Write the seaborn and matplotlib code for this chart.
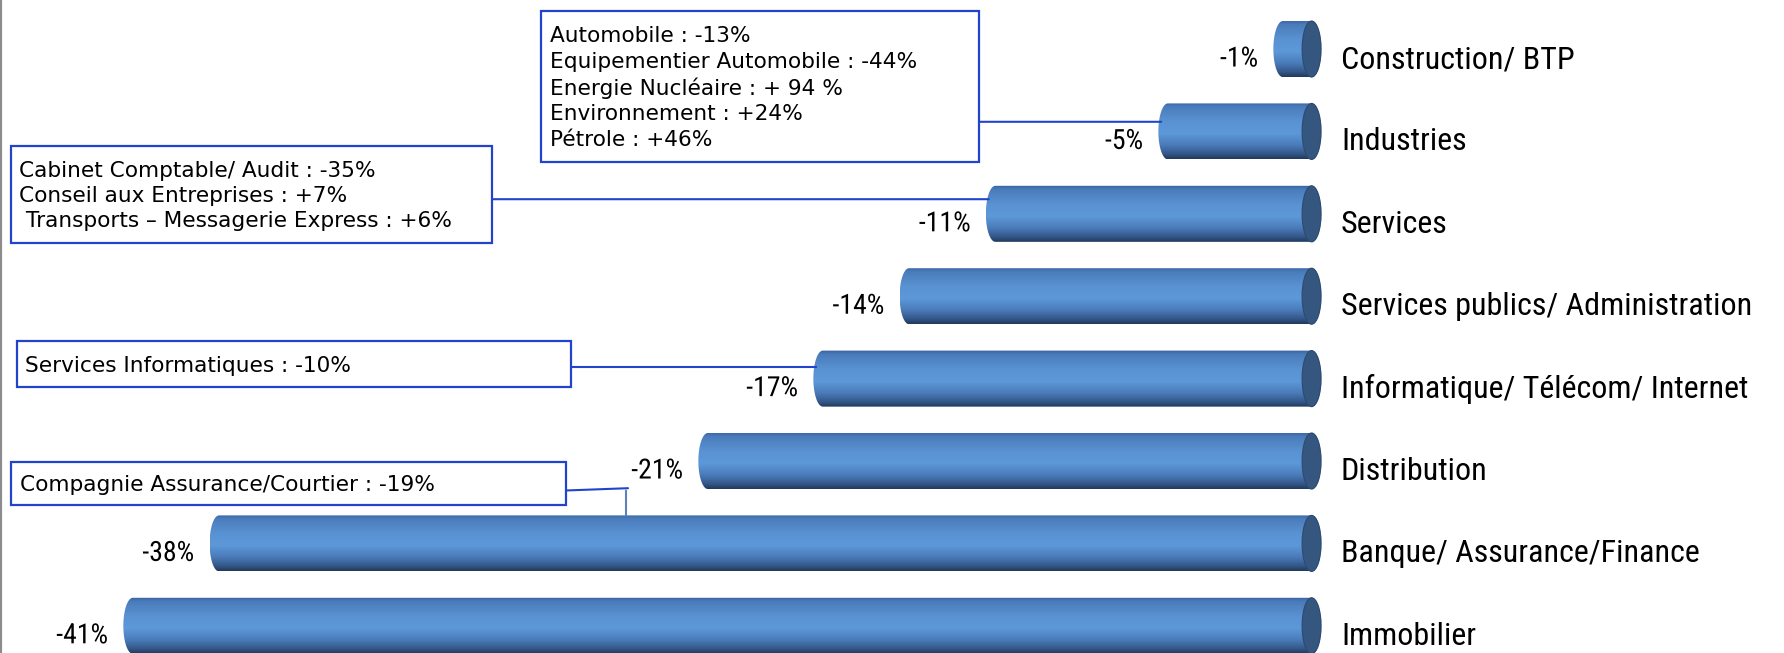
import numpy as np
import matplotlib
matplotlib.use('Agg')
import matplotlib.pyplot as plt
import matplotlib.patheffects as pe
import seaborn as sns
from matplotlib import font_manager
from matplotlib.colors import LinearSegmentedColormap
from matplotlib.patches import Ellipse, Polygon, Rectangle


# data
categories = ['Construction/ BTP', 'Industries', 'Services',
              'Services publics/ Administration', 'Informatique/ Télécom/ Internet',
              'Distribution', 'Banque/ Assurance/Finance', 'Immobilier']
values = [-1, -5, -11, -14, -17, -21, -38, -41]

notes_industries = ['Automobile : -13%', 'Equipementier Automobile : -44%',
                    'Energie Nucléaire : + 94 %', 'Environnement : +24%', 'Pétrole : +46%']
notes_services = ['Cabinet Comptable/ Audit : -35%', 'Conseil aux Entreprises : +7%',
                  ' Transports – Messagerie Express : +6%']
notes_informatique = ['Services Informatiques : -10%']
notes_banque = ['Compagnie Assurance/Courtier : -19%']

W, H = 1784, 653
BLUE = '#2244cc'
cyl = LinearSegmentedColormap.from_list('cyl', [
    (0.0, '#3a62a0'), (0.08, '#4a7cbb'), (0.35, '#5a93d3'), (0.55, '#5d98d8'),
    (0.75, '#4b7cba'), (0.9, '#355a8c'), (1.0, '#22385c')])


# pick a narrow font for the category names if one is installed
def narrow_font():
    fonts = font_manager.fontManager.ttflist
    names = {f.name for f in fonts}
    for name in ['Roboto Condensed', 'Liberation Sans Narrow', 'Arial Narrow']:
        if name in names:
            return dict(family=[name, 'DejaVu Sans']), 1.0
    if any(f.name == 'DejaVu Sans' and f.stretch == 'condensed' for f in fonts):
        return dict(family=['DejaVu Sans'], fontstretch='condensed'), 0.88
    return dict(family=['DejaVu Sans']), 0.8


def fx(x):
    return x / W


def fy(y):
    return 1 - y / H


# draw a box with notes (pixel positions from the top left corner)
def note_box(fig, lines, left, top, right, bottom, text_x):
    fig.add_artist(Rectangle((fx(left), fy(bottom)), (right - left) / W, (bottom - top) / H,
                             transform=fig.transFigure, facecolor='white',
                             edgecolor=BLUE, lw=1.6, zorder=5))
    fig.text(fx(text_x), fy((top + bottom) / 2 + 1.5), '\n'.join(lines), ha='left', va='center',
             fontsize=15.6, linespacing=1.33, color='black', zorder=6)


sns.set_theme(style='white')
plt.rcParams['font.family'] = ['DejaVu Sans']
label_font, k = narrow_font()

fig = plt.figure(figsize=(W / 100, H / 100), dpi=100)
ax = fig.add_axes([0, 0, 1330 / W, 1])
sns.barplot(x=values, y=categories, orient='h', color='#5a93d3', width=0.68, ax=ax)

cap = 0.33  # half width of the cylinder ends, in data units
grad = np.linspace(0, 1, 256).reshape(-1, 1)
ends = []
for patch, v in zip(list(ax.patches), values):
    bb = patch.get_bbox()
    x0, x1, y0, y1 = bb.xmin, bb.xmax, bb.ymin, bb.ymax
    yc, hh = (y0 + y1) / 2, (y1 - y0) / 2
    t = np.linspace(np.pi / 2, 3 * np.pi / 2, 40)
    left = np.column_stack([x0 + cap * np.cos(t), yc + hh * np.sin(t)])
    t2 = np.linspace(-np.pi / 2, np.pi / 2, 40)
    right = np.column_stack([x1 + cap * np.cos(t2), yc + hh * np.sin(t2)])
    outline = Polygon(np.vstack([left, right]), closed=True, facecolor='none', edgecolor='none')
    ax.add_patch(outline)
    im = ax.imshow(grad, cmap=cyl, aspect='auto', extent=(x0 - cap, x1 + cap, y1, y0),
                   origin='upper', zorder=2, interpolation='bilinear')
    im.set_clip_path(outline)
    ax.add_patch(Ellipse((x1, yc), 2 * cap, 2 * hh, facecolor='#35577f',
                         edgecolor='#2d4a70', lw=0.8, zorder=3))
    patch.set_visible(False)
    ends.append((x0 - cap, y0, yc))
    ax.annotate(f'{v}%', xy=(x0 - cap, yc), xytext=(-11, -7.2), textcoords='offset points',
                ha='right', va='center', fontsize=20 * k, color='black',
                path_effects=[pe.withStroke(linewidth=3, foreground='white')], **label_font)

# category names on the right
for i, name in enumerate(categories):
    ax.annotate(name, xy=(1, i), xycoords=('axes fraction', 'data'), xytext=(7.9, -13.7),
                textcoords='offset points', ha='left', va='baseline', color='black',
                fontsize=23 * k, annotation_clip=False, **label_font)

ax.set_xlim(-45.62, 0.64)
ax.set_ylim(7.33, -0.595)
ax.set_xticks([])
ax.set_yticks([])
ax.set_xlabel('')
ax.set_ylabel('')
for s in ['top', 'right', 'bottom']:
    ax.spines[s].set_visible(False)
ax.spines['left'].set_color('#8c8c8c')
ax.spines['left'].set_linewidth(3)

# note boxes
note_box(fig, notes_industries, 540.6, 11.4, 978.7, 161.6, 549.7)
note_box(fig, notes_services, 11.4, 145.7, 491.6, 243.5, 19.3)
note_box(fig, notes_informatique, 17, 341.4, 571.3, 386.9, 25)
note_box(fig, notes_banque, 11.4, 462, 565.6, 505.3, 20.5)

line = dict(arrowstyle='-', color=BLUE, lw=1.5, shrinkA=0, shrinkB=0)
for idx, box_right, ly in [(1, 978.7, 121.8), (2, 491.6, 199.2), (4, 565.6, 367)]:
    ax.annotate('', xy=(ends[idx][0] + 0.1, fy(ly)), xycoords=('data', 'figure fraction'),
                xytext=(fx(box_right), fy(ly)), textcoords='figure fraction',
                arrowprops=line, annotation_clip=False)
ax.annotate('', xy=(fx(628), fy(488.2)), xycoords='figure fraction',
            xytext=(fx(565.6), fy(490.5)), textcoords='figure fraction',
            arrowprops=line, annotation_clip=False)
ax.annotate('', xy=(fx(626), ends[6][1]), xycoords=('figure fraction', 'data'),
            xytext=(fx(626), fy(490.5)), textcoords='figure fraction',
            arrowprops=dict(arrowstyle='-', color='#5b82bd', lw=1.5, shrinkA=0, shrinkB=0),
            annotation_clip=False)

fig.savefig('out.png', dpi=100, facecolor='white')
